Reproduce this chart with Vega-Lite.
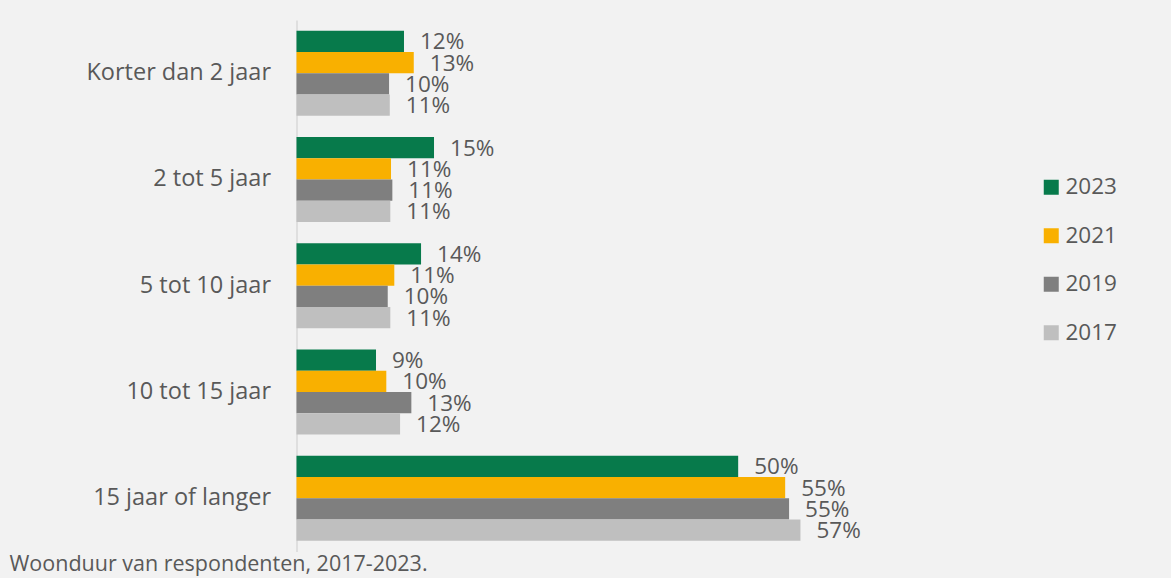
{
  "$schema": "https://vega.github.io/schema/vega-lite/v6.json",
  "autosize": {"type": "none"},
  "width": 533,
  "height": 531.5,
  "padding": {"left": 296.5, "top": 20, "right": 341.5, "bottom": 26.5},
  "background": "#f2f2f2",
  "config": {
    "view": {"stroke": null},
    "font": "Open Sans"
  },
  "title": {
    "text": "Woonduur van respondenten, 2017-2023.",
    "orient": "bottom",
    "anchor": "start",
    "frame": "group",
    "dx": -287,
    "offset": 2,
    "fontSize": 21.5,
    "fontWeight": "normal",
    "color": "#595959",
    "font": "Open Sans"
  },
  "data": {
    "values": [
      {"cat": "Korter dan 2 jaar", "year": "2023", "v": 12.1, "label": "12%"},
      {"cat": "Korter dan 2 jaar", "year": "2021", "v": 13.2, "label": "13%"},
      {"cat": "Korter dan 2 jaar", "year": "2019", "v": 10.42, "label": "10%"},
      {"cat": "Korter dan 2 jaar", "year": "2017", "v": 10.5, "label": "11%"},
      {"cat": "2 tot 5 jaar", "year": "2023", "v": 15.48, "label": "15%"},
      {"cat": "2 tot 5 jaar", "year": "2021", "v": 10.64, "label": "11%"},
      {"cat": "2 tot 5 jaar", "year": "2019", "v": 10.79, "label": "11%"},
      {"cat": "2 tot 5 jaar", "year": "2017", "v": 10.56, "label": "11%"},
      {"cat": "5 tot 10 jaar", "year": "2023", "v": 14.02, "label": "14%"},
      {"cat": "5 tot 10 jaar", "year": "2021", "v": 11.01, "label": "11%"},
      {"cat": "5 tot 10 jaar", "year": "2019", "v": 10.27, "label": "10%"},
      {"cat": "5 tot 10 jaar", "year": "2017", "v": 10.56, "label": "11%"},
      {"cat": "10 tot 15 jaar", "year": "2023", "v": 8.95, "label": "9%"},
      {"cat": "10 tot 15 jaar", "year": "2021", "v": 10.11, "label": "10%"},
      {"cat": "10 tot 15 jaar", "year": "2019", "v": 12.93, "label": "13%"},
      {"cat": "10 tot 15 jaar", "year": "2017", "v": 11.66, "label": "12%"},
      {"cat": "15 jaar of langer", "year": "2023", "v": 49.72, "label": "50%"},
      {"cat": "15 jaar of langer", "year": "2021", "v": 55.01, "label": "55%"},
      {"cat": "15 jaar of langer", "year": "2019", "v": 55.45, "label": "55%"},
      {"cat": "15 jaar of langer", "year": "2017", "v": 56.73, "label": "57%"}
    ]
  },
  "encoding": {
    "y": {
      "field": "cat",
      "type": "nominal",
      "sort": null,
      "scale": {"paddingInner": 0.2, "paddingOuter": 0.1},
      "axis": {
        "title": null,
        "ticks": false,
        "labelPadding": 26,
        "labelFontSize": 23.5,
        "labelLimit": 300,
        "labelColor": "#595959",
        "labelFont": "Open Sans",
        "domainColor": "#d9d9d9",
        "domainWidth": 1.5
      }
    },
    "yOffset": {
      "field": "year",
      "type": "nominal",
      "sort": ["2023", "2021", "2019", "2017"],
      "scale": {"paddingInner": 0, "paddingOuter": 0}
    },
    "x": {
      "field": "v",
      "type": "quantitative",
      "scale": {"domain": [0, 60], "nice": false},
      "axis": null
    }
  },
  "layer": [
    {
      "mark": {"type": "bar", "cornerRadius": 0},
      "encoding": {
        "color": {
          "field": "year",
          "type": "nominal",
          "sort": ["2023", "2021", "2019", "2017"],
          "scale": {
            "domain": ["2023", "2021", "2019", "2017"],
            "range": ["#077a4b", "#f9b000", "#7f7f7f", "#bfbfbf"]
          },
          "legend": {
            "title": null,
            "orient": "none",
            "legendX": 743.5,
            "legendY": 156,
            "symbolType": "square",
            "symbolSize": 225,
            "symbolStrokeWidth": 0,
            "labelFontSize": 22.5,
            "labelFont": "Open Sans",
            "labelColor": "#595959",
            "labelOffset": 3,
            "rowPadding": 25.5,
            "padding": 0
          }
        }
      }
    },
    {
      "mark": {
        "type": "text",
        "align": "left",
        "baseline": "middle",
        "dx": 16,
        "dy": 1,
        "fontSize": 22.5,
        "font": "Open Sans",
        "color": "#595959"
      },
      "encoding": {
        "text": {"field": "label", "type": "nominal"}
      }
    }
  ]
}
